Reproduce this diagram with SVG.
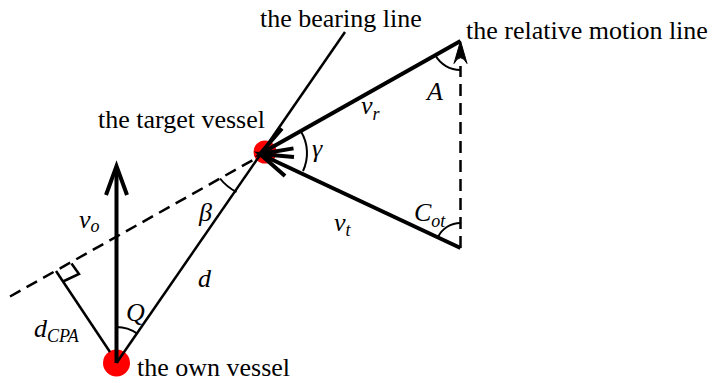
<svg xmlns="http://www.w3.org/2000/svg" width="717" height="383" viewBox="0 0 717 383">
<style>
.lbl{font-family:"Liberation Serif","Times New Roman",serif;font-size:26px;fill:#000}
.it{font-family:"Liberation Serif","Times New Roman",serif;font-style:italic;font-size:26px;fill:#000}
.sub{font-size:18px}
.thick{stroke:#000;stroke-width:4;fill:none;stroke-linecap:butt;stroke-linejoin:miter}
.thin{stroke:#000;stroke-width:2.5;fill:none}
.dash{stroke:#000;stroke-width:2.5;fill:none;stroke-dasharray:12 7}
.arc{stroke:#000;stroke-width:2;fill:none}
.vessel{fill:#ff0000}
</style>
<rect width="717" height="383" fill="#fff"/>
<g id="target-vessel">
<circle class="vessel" cx="265" cy="152" r="11.5"/>
<text class="lbl" x="265" y="128" text-anchor="end">the target vessel</text>
</g>
<g id="own-vessel">
<circle class="vessel" cx="116.5" cy="363" r="13.5"/>
<text class="lbl" x="137" y="376">the own vessel</text>
</g>
<g id="bearing-line-label">
<text class="lbl" x="260" y="27">the bearing line</text>
</g>
<g id="relative-motion-line-label">
<text class="lbl" x="466" y="39">the relative motion line</text>
</g>
<g id="connectors">
<line class="dash" x1="10" y1="296.5" x2="263.6" y2="154"/>
<line class="thin" x1="116.5" y1="363" x2="345" y2="32"/>
<polyline class="thin" points="56,271 110,352"/>
<polyline class="thin" stroke-width="2" points="71.5,263.5 79,274 63,281.5"/>
<line class="thick" x1="116.5" y1="363" x2="116.5" y2="168"/>
<polyline class="thick" points="106,195 116.5,166 127,195"/>
<line class="thick" x1="460.5" y1="41" x2="260" y2="154"/>
<polyline class="thick" points="282,128.5 260,154 293.5,148.4"/>
<line class="thick" x1="460.5" y1="248" x2="260" y2="154"/>
<polyline class="thick" points="285,176 260,154 294,157"/>
<line class="dash" x1="460.5" y1="248" x2="460.5" y2="66"/>
<path d="M460.5,41 L454,63.5 Q460.5,52 467,63.5 Z" fill="#000" stroke="#000" stroke-width="1"/>
</g>
<g id="angles">
<path class="arc" d="M435.3,55.3 A29 29 0 0 0 460.5,70"/>
<path class="arc" d="M438,237 A25 25 0 0 1 460.5,223"/>
<path class="arc" d="M301,131.5 A42 42 0 0 1 303,171"/>
<path class="arc" d="M220,178.5 A50 50 0 0 0 236.5,192"/>
<path class="arc" d="M116.5,327 A36 36 0 0 1 137.2,333.6"/>
</g>
<g id="labels">
<text class="it" x="361" y="114">v<tspan class="sub" dy="6">r</tspan></text>
<text class="it" x="427" y="100">A</text>
<text class="it" x="312" y="157">γ</text>
<text class="it" x="334" y="231">v<tspan class="sub" dy="5">t</tspan></text>
<text class="it" x="414" y="221">C<tspan class="sub" dy="6">ot</tspan></text>
<text class="it" x="79" y="228">v<tspan class="sub" dy="4">o</tspan></text>
<text class="it" x="199" y="221">β</text>
<text class="it" x="198" y="287">d</text>
<text class="it" x="126" y="321">Q</text>
<text class="it" x="34" y="337">d<tspan class="sub" dy="5">CPA</tspan></text>
</g>
</svg>
